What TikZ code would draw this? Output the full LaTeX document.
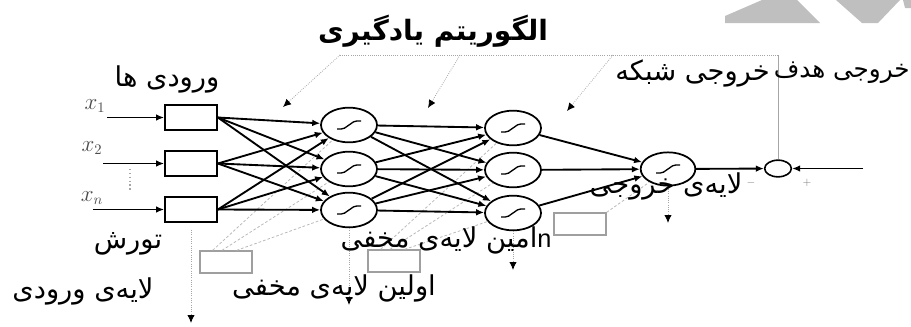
\documentclass[tikz,border=0pt]{standalone}
\usepackage{fontspec}
\usetikzlibrary{arrows.meta,shapes.geometric}
\TeXXeTstate=1
\newfontfamily\fa[Script=Arabic]{DejaVu Sans}
\newfontfamily\latinsans{Liberation Sans}

\tikzset{
  neuron/.style={draw, line width=1.3pt, ellipse, minimum width=42pt, minimum height=26pt, inner sep=0pt},
  outneuron/.style={draw, line width=1.3pt, ellipse, minimum width=41pt, minimum height=25pt, inner sep=0pt},
  compare/.style={draw, line width=1.2pt, ellipse, minimum width=20pt, minimum height=12.5pt, inner sep=0pt},
  inbox/.style={draw, line width=1.3pt, rectangle, minimum width=39pt, minimum height=19pt, inner sep=0pt},
  biasbox/.style={draw=gray!75, line width=1pt, rectangle, minimum width=39pt, minimum height=16.5pt, inner sep=0pt},
  link/.style={line width=1.4pt, -{Latex[length=6pt,width=5pt]}},
  feed/.style={gray!70, line width=0.6pt, densely dotted},
  feedarrow/.style={gray!70, line width=0.6pt, densely dotted, -{Latex[length=6pt,width=5.5pt,color=black]}},
  biasline/.style={gray!55, line width=0.6pt, dash pattern=on 2pt off 1.5pt},
  downarrow/.style={gray!70, line width=0.7pt, densely dotted, -{Latex[length=6pt,width=5.5pt,color=black]}},
  lbl/.style={font=\fa\fontsize{20.5}{24}\selectfont, inner sep=0pt},
  lblsmall/.style={font=\fa\fontsize{18.5}{21}\selectfont, inner sep=0pt},
  ttl/.style={font=\fa\bfseries\fontsize{21}{25}\selectfont, inner sep=0pt},
  xlab/.style={font=\fontsize{16}{16}\selectfont, text=gray!60!black, inner sep=0pt},
  sign/.style={font=\fontsize{8}{8}\selectfont, text=gray, inner sep=0pt},
  sig/.style={line width=1pt},
}

% small sigmoid curve drawn inside a neuron
\newcommand\sigcurve[1]{%
  \draw[sig] ([shift={(-9pt,-3pt)}]#1.center) .. controls ([shift={(1pt,-4pt)}]#1.center) and ([shift={(-1pt,4pt)}]#1.center) .. ([shift={(9pt,3pt)}]#1.center);}

\begin{document}
\begin{tikzpicture}[x=0.75pt,y=-0.75pt]
\useasboundingbox (0,0) rectangle (911,326);

% watermark fragments in the corner
\fill[gray!50] (725,23) -- (725,16) -- (762,0) -- (797,0) -- (820,23) -- cycle;
\fill[gray!50] (836,0) -- (862,23) -- (878,23) -- (900,0) -- cycle;
\fill[gray!50] (903,0) -- (911,0) -- (911,8) -- (905,8) -- cycle;

% input boxes
\node[inbox] (in1) at (191,117.5) {};
\node[inbox] (in2) at (191,163.5) {};
\node[inbox] (in3) at (191,209.5) {};

% first hidden layer
\node[neuron] (h11) at (349,125) {};
\node[neuron] (h12) at (349,169) {};
\node[neuron] (h13) at (349,210) {};

% n-th hidden layer
\node[neuron] (h21) at (513,128) {};
\node[neuron] (h22) at (513,170) {};
\node[neuron] (h23) at (513,213) {};

% output neuron and comparison
\node[outneuron] (o) at (668,169) {};
\node[compare] (c) at (778,168.5) {};

% bias boxes
\node[biasbox] (bA) at (226,262) {};
\node[biasbox] (bB) at (394,261) {};
\node[biasbox] (bC) at (580,224) {};

\foreach \n in {h11,h12,h13,h21,h22,h23,o} {\sigcurve{\n}}

% input lines
\node[xlab] (lx1) at (95,106) {$x_{1}$};
\node[xlab] (lx2) at (92,148) {$x_{2}$};
\node[xlab] (lxn) at (92,198) {$x_{n}$};
\coordinate (s1) at (107,117.5);
\coordinate (s2) at (103,163.5);
\coordinate (s3) at (93,209.5);
\draw[link] (s1) -- (in1);
\draw[link] (s2) -- (in2);
\draw[link] (s3) -- (in3);
\coordinate (vd1) at (130,169);
\coordinate (vd2) at (130,192);
\draw[gray!70, line width=0.9pt, dotted] (vd1) -- (vd2);

% bias connections
\draw[biasline] ([xshift=-10pt]bA.north) -- (h11);
\draw[biasline] ([xshift=-3pt]bA.north) -- (h12);
\draw[biasline] ([xshift=8pt]bA.north) -- (h13);
\draw[biasline] ([xshift=-10pt]bB.north) -- (h21);
\draw[biasline] ([xshift=-3pt]bB.north) -- (h22);
\draw[biasline] ([xshift=8pt]bB.north) -- (h23);
\draw[biasline] (bC.north east) -- (o);

% weighted links
\foreach \i in {1,2,3}{
  \foreach \j in {1,2,3}{
    \draw[link] (in\i.east) -- (h1\j);
    \draw[link] (h1\i) -- (h2\j);
  }
  \draw[link] (h2\i) -- (o);
}
\draw[link] (o) -- (c);
\coordinate (t) at (863,168.5);
\draw[link] (t) -- (c);

% learning algorithm feedback
\coordinate (ftop) at (778,55);
\coordinate (f1) at (340,55);
\coordinate (f2) at (460,55);
\coordinate (f3) at (613,55);
\coordinate (a1) at (283,107);
\coordinate (a2) at (428,108);
\coordinate (a3) at (567,111);
\draw[gray!70, line width=0.6pt] (c) -- (ftop);
\draw[feed] (ftop) -- (f1);
\draw[feedarrow] (f1) -- (a1);
\draw[feedarrow] (f2) -- (a2);
\draw[feedarrow] (f3) -- (a3);

% downward error arrows
\coordinate (d0) at (191,323);
\coordinate (d1) at (349,305);
\coordinate (d2) at (513,270);
\coordinate (d3) at (668,223);
\draw[downarrow, shorten <=5pt] (in3.south) -- (d0);
\draw[downarrow] (h13.south) -- (d1);
\draw[downarrow] (h23.south) -- (d2);
\draw[downarrow] (o.south) -- (d3);

% signs at the comparison
\node[sign] (sm) at (751,183) {$-$};
\node[sign] (sp) at (807,183) {$+$};

% labels
\node[ttl] (title) at (433,31) {\beginR الگوریتم یادگیری\endR};
\node[lbl] (linputs) at (167,79) {\beginR ورودی ها\endR};
\node[lbl, anchor=east] (lnet) at (770,73) {\beginR خروجی شبکه\endR};
\node[lblsmall, anchor=east] (ltarget) at (910,73) {\beginR خروجی هدف\endR};
\node[lbl] (lbias) at (128,244) {\beginR تورش\endR};
\node[lbl] (linlayer) at (83,291) {\beginR لایه‌ی ورودی\endR};
\node[lbl] (lfirst) at (334,288) {\beginR اولین لایه‌ی مخفی\endR};
\node[lbl] (lnth) at (446,240) {\beginR\hbox{\latinsans\fontsize{19}{20}\selectfont n}\hbox{امین لایه‌ی مخفی}\endR};
\node[lbl] (lout) at (666,186) {\beginR لایه‌ی خروجی\endR};
\end{tikzpicture}
\end{document}
